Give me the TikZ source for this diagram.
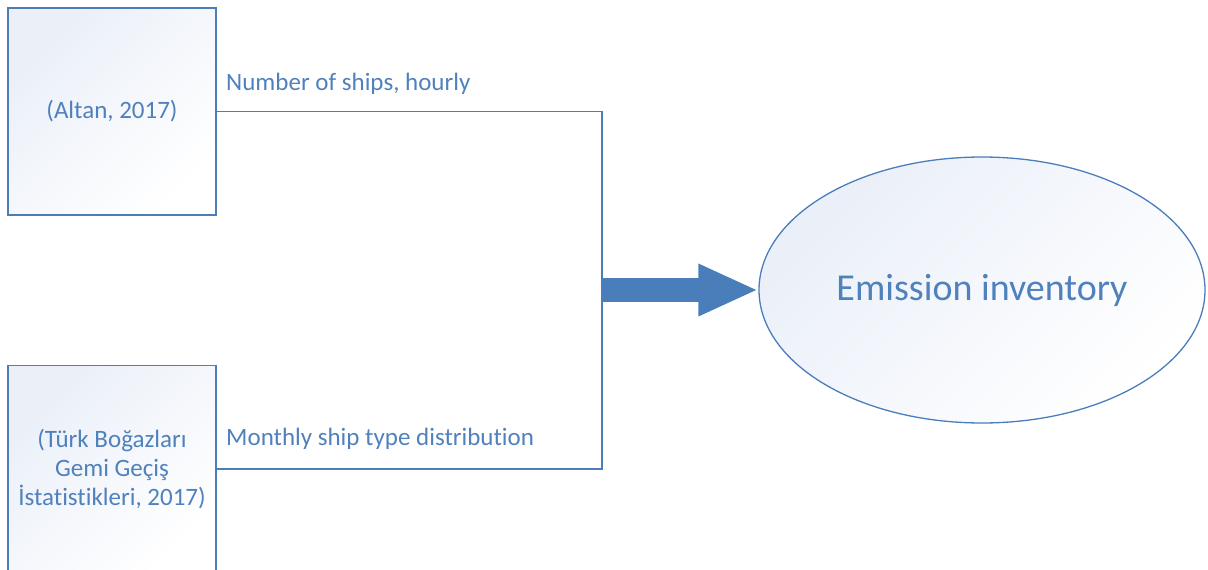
\documentclass[tikz,border=0pt]{standalone}
\usepackage{fontspec}
\setmainfont{Carlito}[Ligatures=NoCommon]
\usetikzlibrary{shapes.geometric, arrows.meta, positioning}
\definecolor{oline}{HTML}{4A7EBB}
\definecolor{otext}{HTML}{4F81BD}
\definecolor{ofill}{HTML}{4A7EBB}
\definecolor{otint}{HTML}{EAEFF8}
\tikzstyle{source} = [rectangle, draw=oline, line width=1.5pt, minimum width=208pt, minimum height=207pt, align=center, text=otext, font=\fontsize{25}{29}\selectfont, top color=otint, bottom color=white, shading angle=45]
\tikzstyle{inventory} = [ellipse, draw=oline, line width=1.3pt, minimum width=446pt, minimum height=266pt, text=otext, font=\fontsize{38}{44}\selectfont, top color=otint, bottom color=white, shading angle=45]
\tikzstyle{flowtext} = [text=otext, font=\fontsize{25}{29}\selectfont, inner sep=0pt]
\tikzstyle{cable} = [draw=oline, line width=1.5pt]
\tikzstyle{feed} = [draw=oline, line width=24pt, -{Triangle[length=60pt, width=48pt]}, color=ofill]

\begin{document}
\begin{tikzpicture}[x=1pt, y=-1pt]
\useasboundingbox (0,0) rectangle (1208,570);
%Data sources
\node (altan) [source] at (112,111.5) {(Altan, 2017)};
\node (tbgg) [source, below=149pt of altan] {(Türk Boğazları\\Gemi Geçiş\\İstatistikleri, 2017)};
\node (inv) [inventory] at (982,290) {Emission inventory};
\coordinate (join) at (602,290);
\draw [cable] (altan.east) -| (join) |- (tbgg.east);
\node (hourly) [flowtext, anchor=base west] at (226,90) {Number of ships, hourly};
\node (monthly) [flowtext, anchor=base west] at (226,445) {Monthly ship type distribution};
\draw [feed] (join) -- (inv.west);
\end{tikzpicture}
\end{document}
